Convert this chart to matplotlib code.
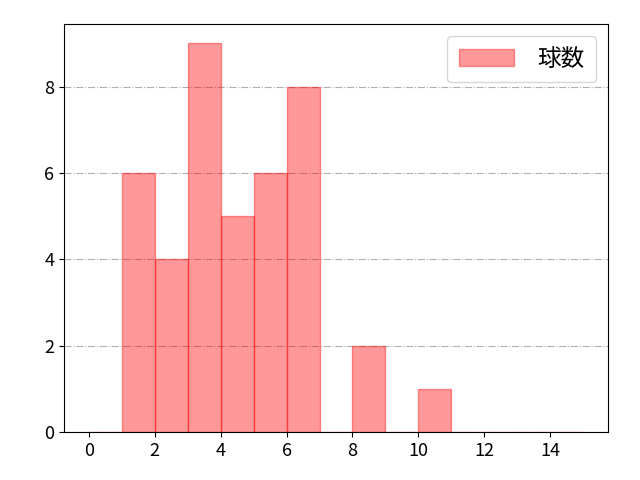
import numpy as np
import matplotlib.pyplot as plt

plt.rcParams['font.family'] = ['Noto Sans CJK JP', 'DejaVu Sans']

bin_edges = list(range(0, 16))
counts = [0, 6, 4, 9, 5, 6, 8, 0, 2, 0, 1, 0, 0, 0, 0]

fig, ax = plt.subplots(figsize=(6.4, 4.8), dpi=100)
fig.subplots_adjust(left=0.1, right=0.95, top=0.95, bottom=0.1)
ax.hist(bin_edges[:-1], bins=bin_edges, weights=counts,
        color='red', alpha=0.4, edgecolor='red', label='球数')
ax.set_xticks(range(0, 15, 2))
ax.grid(axis='y', linestyle='-.')
ax.set_axisbelow(True)
ax.legend(loc='upper right', fontsize=17, handlelength=2.3, handletextpad=1.0,
          borderpad=0.5)
ax.tick_params(labelsize=13)
fig.savefig('out.png')
